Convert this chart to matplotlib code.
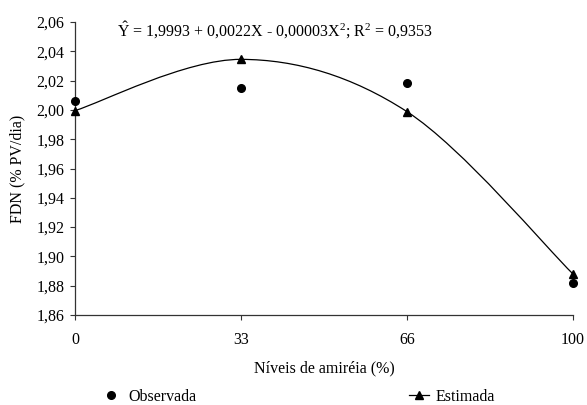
import numpy as np
import matplotlib
matplotlib.use("Agg")
from matplotlib import pyplot as plt
from matplotlib.path import Path
from matplotlib.patches import PathPatch
from matplotlib.lines import Line2D

plt.rcParams["font.family"] = ["Liberation Serif", "DejaVu Serif"]
plt.rcParams["mathtext.fontset"] = "custom"
plt.rcParams["mathtext.rm"] = "Liberation Serif"
plt.rcParams["mathtext.it"] = "Liberation Serif:italic"
plt.rcParams["font.size"] = 11.5

levels = ["0", "33", "66", "100"]
observada = [2.0063, 2.0152, 2.0186, 1.8820]
estimada = [1.9995, 2.0345, 1.9988, 1.8880]
y_ticks = [1.86, 1.88, 1.90, 1.92, 1.94, 1.96, 1.98, 2.00, 2.02, 2.04, 2.06]


def smooth_path(xs, ys):
    # Excel-style smoothed line: Bezier segments with Catmull-Rom control points
    pts = np.column_stack([xs, ys])
    ext = np.vstack([pts[0], pts, pts[-1]])
    verts = [tuple(pts[0])]
    codes = [Path.MOVETO]
    for i in range(len(pts) - 1):
        p0, p1, p2, p3 = ext[i], ext[i + 1], ext[i + 2], ext[i + 3]
        c1 = p1 + (p2 - p0) / 6
        c2 = p2 - (p3 - p1) / 6
        verts += [tuple(c1), tuple(c2), tuple(p2)]
        codes += [Path.CURVE4] * 3
    return Path(verts, codes)


fig = plt.figure(figsize=(5.87, 4.05), dpi=100)
ax = fig.add_axes([75 / 587, 1 - 315 / 405, 498 / 587, 293 / 405])

x = np.arange(len(levels))
ax.add_patch(PathPatch(smooth_path(x, estimada), facecolor="none",
                       edgecolor="black", lw=0.9, zorder=2))
ax.plot(x, estimada, linestyle="none", marker="^", color="black",
        markersize=6, zorder=3, clip_on=False)
ax.plot(x, observada, linestyle="none", marker="o", color="black",
        markersize=5.5, zorder=3, clip_on=False)

ax.set_xlim(0, 3)
ax.set_ylim(1.86, 2.06)
ax.set_xticks(x)
ax.set_xticklabels(levels)
ax.set_yticks(y_ticks)
ax.set_yticklabels([f"{v:.2f}".replace(".", ",") for v in y_ticks])
ax.tick_params(direction="out", length=3.5, width=0.8, color="#333333", pad=4)
ax.tick_params(axis="x", pad=9)

for side in ["top", "right"]:
    ax.spines[side].set_visible(False)
for side in ["left", "bottom"]:
    ax.spines[side].set_color("#333333")
    ax.spines[side].set_linewidth(0.9)

ax.set_xlabel("Níveis de amiréia (%)", labelpad=9)
ax.set_ylabel("FDN (% PV/dia)", labelpad=8)

ax.text(0.084, 0.973,
        r"$\hat{\mathrm{Y}}$ = 1,9993 + 0,0022X - 0,00003X$^2$; R$^2$ = 0,9353",
        transform=ax.transAxes, ha="left", va="center")

handles = [
    Line2D([], [], linestyle="none", marker="o", color="black", markersize=5.5),
    Line2D([], [], color="black", lw=0.9, marker="^", markersize=6),
]
fig.legend(handles, ["Observada", "Estimada"], ncol=2, loc="center",
           bbox_to_anchor=(298 / 587, 1 - 397 / 405), frameon=False,
           handlelength=1.3, handletextpad=0.4, columnspacing=13.3,
           borderpad=0)

fig.savefig("out.png", dpi=100)
